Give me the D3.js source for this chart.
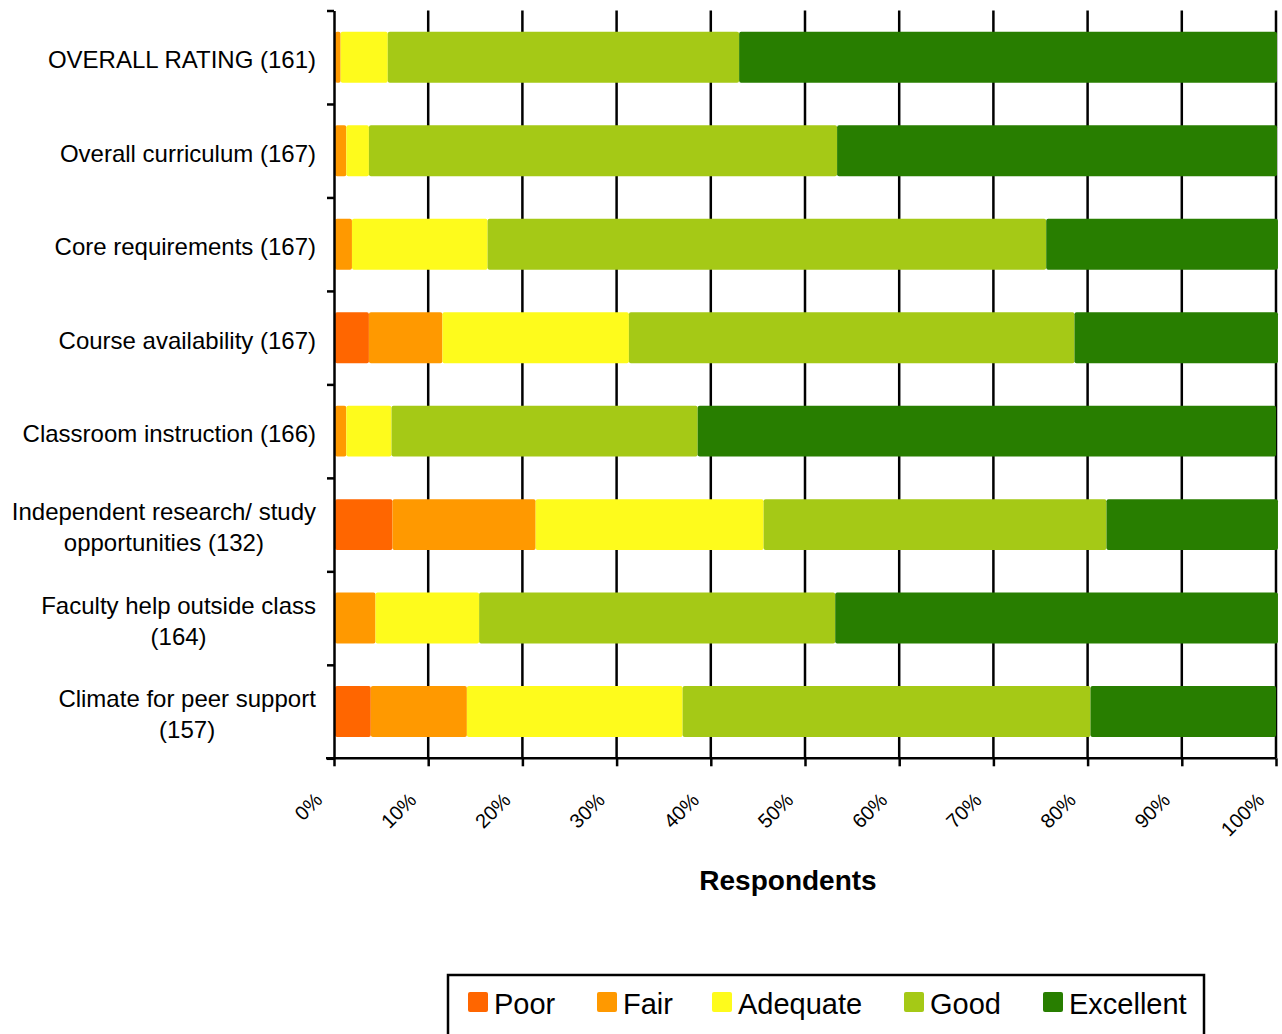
<!DOCTYPE html>
<html>
<head>
<meta charset="utf-8">
<script src="https://cdn.jsdelivr.net/npm/d3@7"></script>
<style>
  body { margin: 0; background: #fff; }
  svg { display: block; font-family: Arial, "Liberation Sans", sans-serif; }
  .grid line { stroke: #000; stroke-width: 2.5; }
  .axis path, .axis line { stroke: #000; stroke-width: 2.5; }
</style>
</head>
<body>
<svg id="chart" width="1282" height="1034"></svg>
<script>
// categories, top to bottom (lines split where the label wraps)
var categories = [
  ['OVERALL RATING (161)'],
  ['Overall curriculum (167)'],
  ['Core requirements (167)'],
  ['Course availability (167)'],
  ['Classroom instruction (166)'],
  ['Independent research/ study', 'opportunities (132)'],
  ['Faculty help outside class', '(164)'],
  ['Climate for peer support', '(157)']
];

var seriesNames = ['Poor', 'Fair', 'Adequate', 'Good', 'Excellent'];
var seriesColors = ['#ff6600', '#ff9900', '#fefb1c', '#a5c916', '#287e00'];

// percent of respondents per category
var poor      = [0.0, 0.0, 0.0, 3.6, 0.0, 6.1, 0.0, 3.8];
var fair      = [0.6, 1.2, 1.8, 7.8, 1.2, 15.2, 4.3, 10.2];
var adequate  = [5.0, 2.4, 14.4, 19.8, 4.8, 24.2, 11.0, 22.9];
var good      = [37.3, 49.7, 59.3, 47.3, 32.5, 36.4, 37.8, 43.3];
var excellent = [57.1, 46.7, 24.6, 21.6, 61.4, 18.2, 47.0, 19.7];

var xTicks = [0, 10, 20, 30, 40, 50, 60, 70, 80, 90, 100];

(function() {
  var rows = categories.map(function(c, i) {
    return { key: i, label: c, Poor: poor[i], Fair: fair[i], Adequate: adequate[i], Good: good[i], Excellent: excellent[i] };
  });

  var svg = d3.select('#chart');
  var left = 334, right = 1276, plotTop = 10.5, plotBottom = 758.3;

  var x = d3.scaleLinear().domain([0, 100]).range([left, right]);
  var y = d3.scaleBand().domain(d3.range(categories.length)).range([plotTop, plotBottom]).paddingInner(0.455).paddingOuter(0.2275);
  var yEdge = d3.scaleLinear().domain([0, categories.length]).range([plotTop, plotBottom]);
  var color = d3.scaleOrdinal().domain(seriesNames).range(seriesColors);

  // vertical grid lines
  svg.append('g').attr('class', 'grid')
    .selectAll('line').data(xTicks.slice(1))
    .enter().append('line')
    .attr('x1', function(d) { return x(d); })
    .attr('x2', function(d) { return x(d); })
    .attr('y1', plotTop).attr('y2', plotBottom);

  // stacked bars
  var stack = d3.stack().keys(seriesNames);
  svg.append('g').selectAll('g').data(stack(rows))
    .enter().append('g')
    .attr('fill', function(s) { return color(s.key); })
    .selectAll('rect').data(function(s) { return s.filter(function(d) { return d[1] - d[0] > 0; }); })
    .enter().append('rect')
    .attr('x', function(d) { return x(d[0]) + 1; })
    .attr('width', function(d) { return Math.max(x(d[1]) - x(d[0]), 2); })
    .attr('y', function(d) { return y(d.data.key); })
    .attr('height', y.bandwidth())
    .attr('rx', 2);

  // bottom axis
  var xAxis = svg.append('g').attr('class', 'axis')
    .attr('transform', 'translate(0,' + plotBottom + ')')
    .call(d3.axisBottom(x).tickValues(xTicks).tickSize(8).tickSizeOuter(0).tickFormat(function(d) { return d + '%'; }));
  xAxis.select('.domain').attr('d', 'M' + (left - 8) + ',0H' + right);
  xAxis.selectAll('text')
    .attr('font-size', 20)
    .attr('font-family', 'Arial, "Liberation Sans", sans-serif')
    .attr('fill', '#000')
    .attr('text-anchor', 'end')
    .attr('y', 0).attr('dy', 0)
    .attr('transform', 'translate(-11,43) rotate(-45)');

  // left axis: ticks on the band edges
  svg.append('g').attr('class', 'axis')
    .attr('transform', 'translate(' + left + ',0)')
    .call(d3.axisLeft(yEdge).ticks(categories.length).tickSize(7).tickSizeOuter(0).tickFormat(''));

  // category labels
  var labels = svg.append('g').selectAll('text').data(rows)
    .enter().append('text')
    .attr('font-size', 24)
    .attr('fill', '#000')
    .attr('text-anchor', 'middle');
  labels.each(function(d) {
    var t = d3.select(this);
    var cy = y(d.key) + y.bandwidth() / 2;
    var lh = 31;
    var y0 = cy - (d.label.length - 1) * lh / 2 + 11;
    d.label.forEach(function(line, j) {
      t.append('tspan').attr('x', 0).attr('y', y0 + j * lh).text(line);
    });
    var w = this.getBBox().width;
    t.selectAll('tspan').attr('x', 316 - w / 2);
  });

  // axis title
  svg.append('text')
    .attr('x', 788).attr('y', 890)
    .attr('text-anchor', 'middle')
    .attr('font-size', 28).attr('font-weight', 'bold')
    .text('Respondents');

  // legend
  var legend = svg.append('g');
  legend.append('rect')
    .attr('x', 448).attr('y', 975).attr('width', 756).attr('height', 80)
    .attr('fill', '#fff').attr('stroke', '#000').attr('stroke-width', 2.5);
  var legendX = [468, 597, 712, 904, 1043];
  var items = legend.selectAll('g.item').data(seriesNames)
    .enter().append('g').attr('class', 'item')
    .attr('transform', function(d, i) { return 'translate(' + legendX[i] + ',0)'; });
  items.append('rect')
    .attr('x', 0).attr('y', 992).attr('width', 20).attr('height', 20).attr('rx', 2)
    .attr('fill', function(d) { return color(d); });
  items.append('text')
    .attr('x', 26).attr('y', 1014)
    .attr('font-size', 29)
    .text(function(d) { return d; });
})();
</script>
</body>
</html>
